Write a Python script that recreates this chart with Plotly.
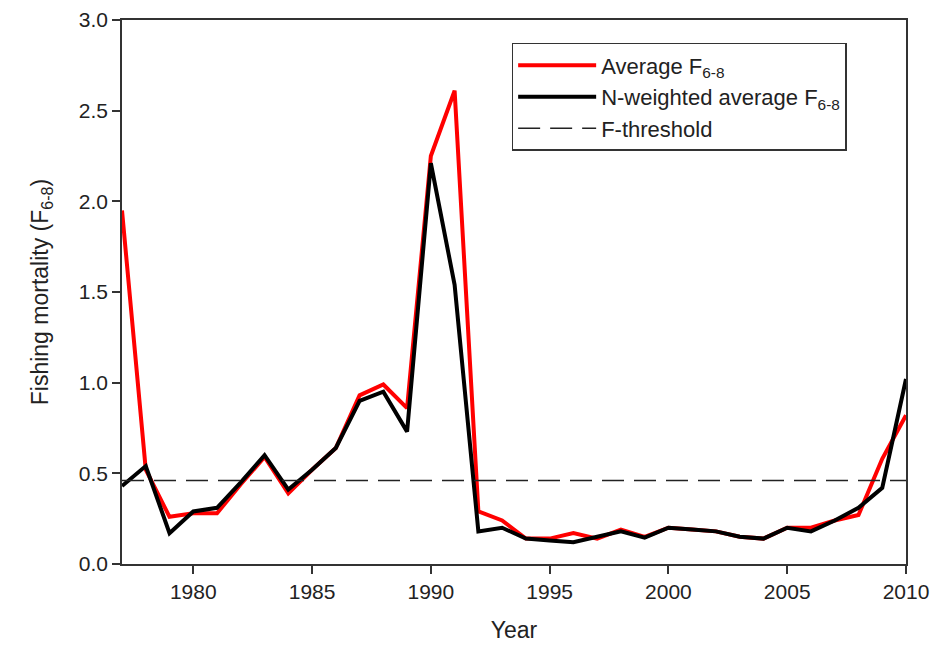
import plotly.graph_objects as go

# Data
years = list(range(1977, 2011))

average_f = [1.95, 0.52, 0.26, 0.28, 0.28, 0.44, 0.59, 0.39, 0.52, 0.64,
             0.93, 0.99, 0.86, 2.25, 2.61, 0.29, 0.24, 0.14, 0.14, 0.17,
             0.14, 0.19, 0.15, 0.20, 0.19, 0.18, 0.15, 0.14, 0.20, 0.20,
             0.24, 0.27, 0.58, 0.82]

weighted_f = [0.43, 0.54, 0.17, 0.29, 0.31, 0.45, 0.60, 0.41, 0.52, 0.64,
              0.90, 0.95, 0.73, 2.21, 1.54, 0.18, 0.20, 0.14, 0.13, 0.12,
              0.15, 0.18, 0.145, 0.20, 0.19, 0.18, 0.15, 0.14, 0.20, 0.18,
              0.24, 0.31, 0.42, 1.02]

f_threshold = 0.46

x_ticks = [1980, 1985, 1990, 1995, 2000, 2005, 2010]
y_ticks = [0.0, 0.5, 1.0, 1.5, 2.0, 2.5, 3.0]

FONT = "Liberation Sans, Arial, sans-serif"
TEXT = "#222222"

fig = go.Figure()

fig.add_trace(go.Scatter(
    x=years, y=average_f, mode="lines",
    name="Average F<sub>6-8</sub>",
    line=dict(color="#ff0000", width=4),
))
fig.add_trace(go.Scatter(
    x=years, y=weighted_f, mode="lines",
    name="N-weighted average F<sub>6-8</sub>",
    line=dict(color="#000000", width=4),
))
fig.add_trace(go.Scatter(
    x=[years[0], years[-1]], y=[f_threshold, f_threshold], mode="lines",
    name="F-threshold",
    line=dict(color="#222222", width=1.5, dash="22px,10px"),
))

axis_common = dict(
    showline=True, linecolor="#333333", linewidth=1.5, mirror=True,
    showgrid=False, zeroline=False, automargin=False,
    ticks="outside", ticklen=8, tickwidth=1.5, tickcolor="#333333",
    ticklabeloverflow="allow",
    tickfont=dict(family=FONT, size=21, color=TEXT),
)

fig.update_xaxes(
    range=[1977, 2010], tickvals=x_ticks,
    title=dict(text="Year", font=dict(family=FONT, size=23, color=TEXT), standoff=20),
    **axis_common,
)
fig.update_yaxes(
    range=[0, 3.0], tickvals=y_ticks, tickformat=".1f",
    title=dict(text="Fishing mortality (F<sub>6-8</sub>)",
               font=dict(family=FONT, size=23, color=TEXT), standoff=24),
    **axis_common,
)

# page body adds ~8px offset, so margins are shifted to compensate
fig.update_layout(
    width=948, height=653,
    margin=dict(l=114, r=50, t=12, b=97, autoexpand=False),
    plot_bgcolor="white", paper_bgcolor="white",
    legend=dict(
        x=0.497, y=0.958, xanchor="left", yanchor="top",
        bordercolor="#333333", borderwidth=1.5, bgcolor="white",
        font=dict(family=FONT, size=22, color=TEXT),
        itemwidth=78, tracegroupgap=4,
    ),
)

fig.write_html("out.html")
